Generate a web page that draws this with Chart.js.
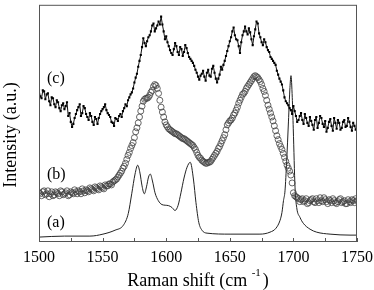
<!DOCTYPE html>
<html>
<head>
<meta charset="utf-8">
<script src="https://cdn.jsdelivr.net/npm/chart.js@4/dist/chart.umd.min.js"></script>
<style>
html,body{margin:0;padding:0;background:#fff;}
#c{display:block;}
</style>
</head>
<body>
<canvas id="c" width="374" height="290"></canvas>
<script>
// ---- Data (Raman shift in cm^-1, intensity in arbitrary units) ----
const xTickLabels = [1500, 1550, 1600, 1650, 1700, 1750];
const seriesLabels = ['(a)', '(b)', '(c)'];

// (a) sharp-peak spectrum (solid line)
const aShift = [1500,1520,1540,1550.3,1559.8,1566.3,1570.2,1572.9,1575.5,1577.6,1579.4,1581,1582.8,1584.5,1586.1,1587.5,1589.2,1591.2,1593.8,1596.7,1601.7,1604.6,1606.9,1609.3,1611.6,1614,1616.4,1618.9,1621.4,1623.4,1625.6,1628.1,1632.1,1650.2,1673.7,1681.6,1686.3,1689.5,1691,1692.2,1693.4,1694.7,1696.1,1697.3,1698.1,1699.1,1699.9,1701.3,1702.6,1705.2,1707.8,1713.1,1718.3,1728.8,1744.5,1750];
const aIntensity = [5,6,6,8,12,17,29,49,69,78,70,57,49,56,66,69,62,50,42,38,37,35,32,37,50,65,76,81,64,40,20,12,9,8,8,10,14,22,30,42,52,82,122,157,169,147,115,55,35,25,19,13,10,8,7,7];

// (b) and (c) share two shift grids (even and odd wavenumbers)
const evenShift = [1500,1502,1504,1506,1508,1510,1512,1514,1516,1518,1520,1522,1524,1526,1528,1530,1532,1534,1536,1538,1540,1542,1544,1546,1548,1550,1552,1554,1556,1558,1560,1562,1564,1566,1568,1570,1572,1574,1576,1578,1580,1582,1584,1586,1588,1590,1592,1594,1596,1598,1600,1602,1604,1606,1608,1610,1612,1614,1616,1618,1620,1622,1624,1626,1628,1630,1632,1634,1636,1638,1640,1642,1644,1646,1648,1650,1652,1654,1656,1658,1660,1662,1664,1666,1668,1670,1672,1674,1676,1678,1680,1682,1684,1686,1688,1690,1692,1694,1696,1698,1700,1702,1704,1706,1708,1710,1712,1714,1716,1718,1720,1722,1724,1726,1728,1730,1732,1734,1736,1738,1740,1742,1744,1746,1748,1750];
const oddShift = [1501,1503,1505,1507,1509,1511,1513,1515,1517,1519,1521,1523,1525,1527,1529,1531,1533,1535,1537,1539,1541,1543,1545,1547,1549,1551,1553,1555,1557,1559,1561,1563,1565,1567,1569,1571,1573,1575,1577,1579,1581,1583,1585,1587,1589,1591,1593,1595,1597,1599,1601,1603,1605,1607,1609,1611,1613,1615,1617,1619,1621,1623,1625,1627,1629,1631,1633,1635,1637,1639,1641,1643,1645,1647,1649,1651,1653,1655,1657,1659,1661,1663,1665,1667,1669,1671,1673,1675,1677,1679,1681,1683,1685,1687,1689,1691,1693,1695,1697,1699,1701,1703,1705,1707,1709,1711,1713,1715,1717,1719,1721,1723,1725,1727,1729,1731,1733,1735,1737,1739,1741,1743,1745,1747,1749];

// (b) open-circle spectrum
const bIntensityEven = [50,47,52,49,46,51,48,50,47,51,49,52,48,50,53,49,51,54,50,52,55,53,56,54,57,55,58,57,59,61,63,66,70,75,80,88,95,101,112,121,133,143,146,147,152,158,159,151,137,127,119,115,113,111,110,108,106,105,103,101,99,96,91,86,83,81,80,81,84,88,92,97,103,109,119,123,126,131,137,144,150,153,158,162,166,169,167,163,156,149,139,131,123,113,104,97,90,82,75,68,50,46,44,43,41,44,40,43,41,44,40,42,45,41,43,40,42,39,43,40,42,39,41,43,40,42];
const bIntensityOdd = [49,51,48,52,49,47,51,49,52,48,50,47,51,49,51,52,49,52,53,51,54,52,55,53,56,54,57,59,58,62,64,68,72,77,84,91,98,106,116,127,138,145,146,149,154,160,156,144,132,122,117,114,112,110,109,107,105,104,102,100,98,94,88,85,82,80,81,82,86,90,95,100,106,114,121,124,129,134,141,147,151,156,160,164,168,168,165,160,153,144,135,127,118,108,100,94,86,78,72,60,47,45,41,44,42,39,42,44,40,42,45,41,43,39,42,44,40,41,44,41,39,43,40,42,44];

// (c) noisy dotted-line spectrum
const cIntensityEven = [155,146,153,150,143,147,140,144,136,139,135,142,131,117,126,134,140,131,136,127,131,122,127,120,130,135,140,131,127,121,126,123,130,133,140,144,150,156,167,178,190,207,199,208,214,222,217,224,229,214,209,199,192,196,199,190,196,193,197,188,184,179,172,165,171,168,172,169,176,172,162,170,175,184,194,204,214,210,205,192,210,219,211,213,200,216,222,208,200,203,195,188,184,180,170,163,154,143,139,134,138,128,124,131,120,126,118,123,114,127,121,126,117,112,122,118,126,115,121,116,124,118,122,113,118,120];
const cIntensityOdd = [148,154,145,151,139,146,137,142,133,141,138,128,122,120,130,137,128,138,130,124,128,119,125,126,133,137,134,129,122,118,125,128,127,136,138,147,152,162,171,184,198,202,204,210,220,214,220,221,221,206,203,195,190,202,193,198,189,200,192,186,182,175,168,169,174,164,175,168,179,166,166,178,180,189,199,208,218,206,199,203,214,214,217,206,209,224,212,203,206,198,193,186,182,174,166,160,147,141,136,130,133,122,128,124,130,121,127,119,124,116,128,120,123,116,125,113,121,124,114,122,117,126,117,121,114];

// ---- helpers building library data from the arrays ----
const toXY = (xs, ys) => xs.map((v, i) => ({x: v, y: ys[i]}));
const merged = (e, o) => toXY(evenShift, e).concat(toXY(oddShift, o)).sort((p, q) => p.x - q.x);

const serif = '"Liberation Serif", "Times New Roman", serif';

const decor = {
  id: 'decor',
  afterDraw(chart) {
    const {ctx, chartArea: ca, scales: {x}} = chart;
    ctx.save();
    ctx.strokeStyle = '#555';
    ctx.lineWidth = 1;
    ctx.strokeRect(ca.left + 0.5, ca.top + 0.5, ca.right - ca.left - 1, ca.bottom - ca.top - 1);
    ctx.beginPath();
    for (let v = x.min; v <= x.max; v += 25) {
      const px = Math.round(x.getPixelForValue(v)) + 0.5;
      ctx.moveTo(px, ca.bottom);
      ctx.lineTo(px, ca.bottom - 4);
    }
    ctx.stroke();

    ctx.fillStyle = '#000';
    ctx.font = '16px ' + serif;
    ctx.textAlign = 'left';
    ctx.textBaseline = 'middle';
    const lx = ca.left + 8;
    ctx.fillText(seriesLabels[2], lx, 79);
    ctx.fillText(seriesLabels[1], lx, 175);
    ctx.fillText(seriesLabels[0], lx, 223);

    const main = 'Raman shift (cm ';
    const sup = '-1';
    const close = ')';
    ctx.font = '18px ' + serif;
    const wMain = ctx.measureText(main).width;
    const wClose = ctx.measureText(close).width;
    ctx.font = '11px ' + serif;
    const wSup = ctx.measureText(sup).width;
    const total = wMain + wSup + 2 + wClose;
    let tx = (ca.left + ca.right) / 2 - total / 2;
    ctx.textBaseline = 'alphabetic';
    ctx.font = '18px ' + serif;
    ctx.fillText(main, tx, 286);
    tx += wMain;
    ctx.font = '11px ' + serif;
    ctx.fillText(sup, tx, 276);
    tx += wSup + 2;
    ctx.font = '18px ' + serif;
    ctx.fillText(close, tx, 286);

    ctx.translate(11, 135);
    ctx.rotate(-Math.PI / 2);
    ctx.textAlign = 'center';
    ctx.textBaseline = 'middle';
    ctx.font = '18px ' + serif;
    ctx.fillText('Intensity (a.u.)', 0, 0);
    ctx.restore();
  }
};

new Chart(document.getElementById('c'), {
  type: 'line',
  data: {
    datasets: [
      {
        label: seriesLabels[2],
        data: merged(cIntensityEven, cIntensityOdd),
        borderColor: '#111',
        borderWidth: 1,
        pointRadius: 1.5,
        pointStyle: 'rect',
        pointBackgroundColor: '#000',
        pointBorderWidth: 0,
        tension: 0
      },
      {
        label: seriesLabels[1],
        data: merged(bIntensityEven, bIntensityOdd),
        showLine: false,
        pointRadius: 3,
        pointBorderWidth: 0.8,
        pointBorderColor: '#404040',
        pointBackgroundColor: 'rgba(255,255,255,0)'
      },
      {
        label: seriesLabels[0],
        data: toXY(aShift, aIntensity),
        borderColor: '#222',
        borderWidth: 1,
        pointRadius: 0,
        cubicInterpolationMode: 'monotone'
      }
    ]
  },
  options: {
    responsive: false,
    animation: false,
    events: [],
    layout: {padding: {left: 39, right: 17, top: 1, bottom: 0}},
    plugins: {legend: {display: false}, tooltip: {enabled: false}},
    scales: {
      x: {
        type: 'linear',
        min: 1500,
        max: 1750,
        afterBuildTicks(scale) { scale.ticks = xTickLabels.map(v => ({value: v})); },
        afterFit(scale) { scale.height = 48; scale.paddingLeft = 0; scale.paddingRight = 0; },
        grid: {display: false, drawTicks: false},
        border: {display: false},
        ticks: {
          font: {family: serif, size: 16},
          color: '#000',
          padding: 6,
          maxRotation: 0,
          autoSkip: false,
          callback: (v) => String(v)
        }
      },
      y: {
        display: false,
        min: 0,
        max: 241
      }
    }
  },
  plugins: [decor]
});
</script>
</body>
</html>
